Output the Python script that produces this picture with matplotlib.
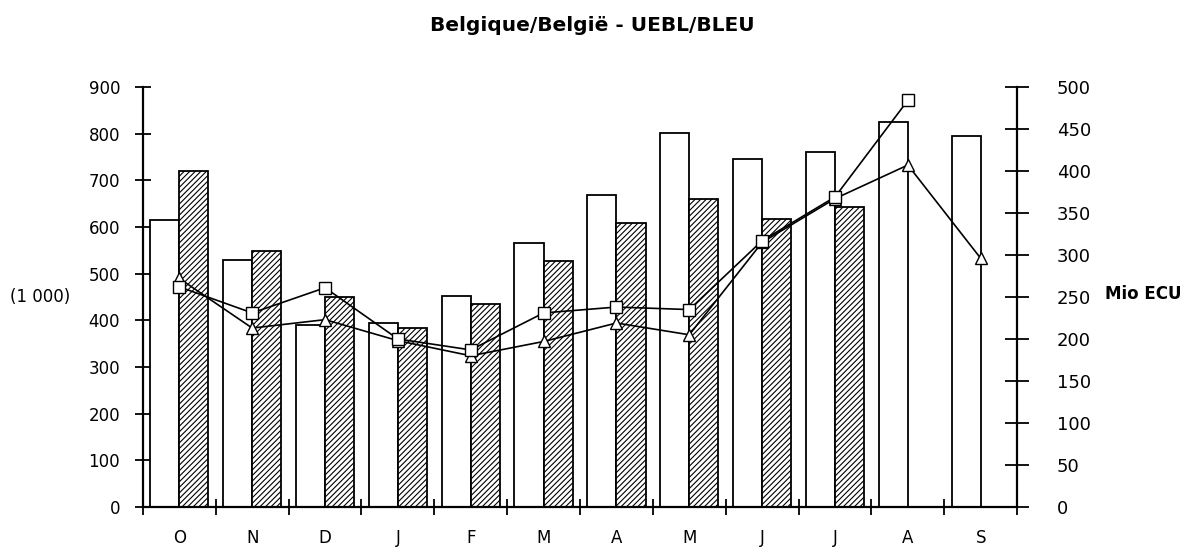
import matplotlib.pyplot as plt
import numpy as np

plt.rcParams['font.family'] = ['DejaVu Sans']
plt.rcParams['hatch.linewidth'] = 0.8

# mois (octobre -> septembre)
mois = ["O", "N", "D", "J", "F", "M", "A", "M", "J", "J", "A", "S"]

# barres, axe de gauche (1 000)
barres_blanches = [615, 529, 390, 395, 451, 566, 668, 801, 745, 761, 825, 795]
barres_hachurees = [720, 549, 450, 384, 434, 527, 609, 659, 616, 643]

# courbes, axe de droite (Mio ECU)
carres = [262, 231, 261, 200, 187, 231, 238, 235, 317, 369, 484]
triangles = [272, 213, 223, 198, 180, 197, 219, 205, 315, 367, 407, 296]

fig = plt.figure(figsize=(11.91, 5.47), dpi=100)
ax = fig.add_axes([0.120, 0.0731, 0.734, 0.768])

x = np.arange(len(mois))
ax.bar(x - 0.2, barres_blanches, width=0.4, color="white", edgecolor="black", linewidth=1.3, zorder=2)
xh = np.arange(len(barres_hachurees))
ax.bar(xh + 0.2, barres_hachurees, width=0.4, color="white", edgecolor="black", linewidth=1.3,
       hatch="//////", zorder=2)

ax.set_xlim(-0.5, 11.5)
ax.set_ylim(0, 900)
ax.set_yticks(range(0, 901, 100))
ax.tick_params(axis="y", direction="inout", length=11, width=1.3, labelsize=12, pad=11)
ax.set_xticks(np.arange(-0.5, 12, 1))
ax.set_xticklabels([])
ax.set_xticks(x, minor=True)
ax.set_xticklabels(mois, minor=True, fontsize=12)
ax.tick_params(axis="x", which="major", direction="inout", length=11, width=1.3)
ax.tick_params(axis="x", which="minor", length=0, pad=16)
for s in ["top", "right"]:
    ax.spines[s].set_visible(False)
ax.spines["left"].set_linewidth(1.6)
ax.spines["bottom"].set_linewidth(1.6)

ax2 = ax.twinx()
ax2.plot(np.arange(len(carres)), carres, color="black", linewidth=1.2, marker="s",
         markersize=8, markerfacecolor="white", markeredgecolor="black", zorder=4)
ax2.plot(x, triangles, color="black", linewidth=1.2, marker="^",
         markersize=8, markerfacecolor="white", markeredgecolor="black", zorder=3)
ax2.set_ylim(0, 500)
ax2.set_yticks(range(0, 501, 50))
ax2.tick_params(axis="y", direction="inout", length=17, width=1.3, labelsize=13, pad=20)
for s in ["top", "left", "bottom"]:
    ax2.spines[s].set_visible(False)
ax2.spines["right"].set_linewidth(1.6)

fig.text(0.497, 0.954, "Belgique/België - UEBL/BLEU", ha="center", va="center",
         fontsize=14.5, fontweight="bold")
fig.text(0.034, 0.457, "(1 000)", ha="center", va="center", fontsize=12)
fig.text(0.928, 0.462, "Mio ECU", ha="left", va="center", fontsize=12, fontweight="bold")

fig.savefig("out.png", dpi=100)
